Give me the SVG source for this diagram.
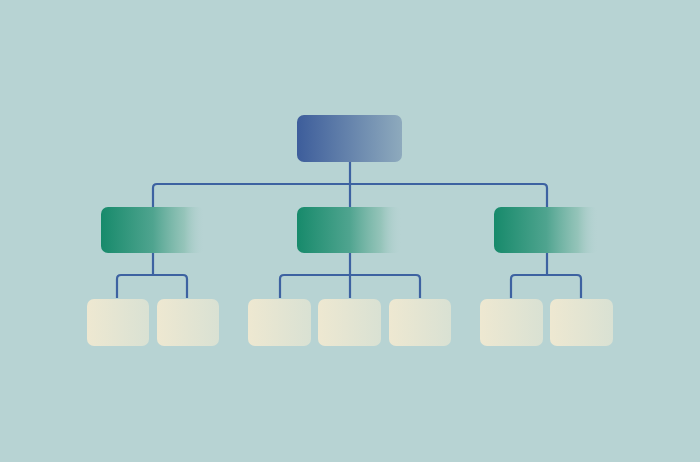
<svg xmlns="http://www.w3.org/2000/svg" width="700" height="462" viewBox="0 0 700 462">
<defs>
<linearGradient id="gTop" x1="0" y1="0" x2="1" y2="0">
<stop offset="0" stop-color="#3d5d9b"/>
<stop offset="1" stop-color="#8eaabd"/>
</linearGradient>
<linearGradient id="gMid" x1="0" y1="0" x2="1" y2="0">
<stop offset="0" stop-color="#178a6b"/>
<stop offset="0.5" stop-color="#4fa48f"/>
<stop offset="0.8" stop-color="#8cc0b3" stop-opacity="0.8"/>
<stop offset="1" stop-color="#b7d3d3" stop-opacity="0"/>
</linearGradient>
<linearGradient id="gLeaf" x1="0" y1="0" x2="1" y2="0">
<stop offset="0" stop-color="#eee8d1"/>
<stop offset="1" stop-color="#d9e1d3"/>
</linearGradient>
<style>
.top{fill:url(#gTop)}
.mid{fill:url(#gMid)}
.leaf{fill:url(#gLeaf)}
.c{fill:none;stroke:#3d62a1;stroke-width:2.2;stroke-linejoin:round}
</style>
</defs>
<rect width="700" height="462" fill="#b7d3d3"/>
<g id="connectors">
<path class="c" d="M350,162 V184"/>
<path class="c" d="M153,207 V188 Q153,184 157,184 H543 Q547,184 547,188 V207"/>
<path class="c" d="M350,184 V207"/>
<path class="c" d="M153,253 V275"/>
<path class="c" d="M117,298 V279 Q117,275 121,275 H183 Q187,275 187,279 V298"/>
<path class="c" d="M350,253 V298"/>
<path class="c" d="M280,298 V279 Q280,275 284,275 H416 Q420,275 420,279 V298"/>
<path class="c" d="M547,253 V275"/>
<path class="c" d="M511,298 V279 Q511,275 515,275 H577 Q581,275 581,279 V298"/>
</g>
<g id="root"><rect class="top" x="297" y="115" width="105" height="47" rx="7"/></g>
<g id="mid-left"><rect class="mid" x="101" y="207" width="104" height="46" rx="7"/></g>
<g id="mid-center"><rect class="mid" x="297" y="207" width="105" height="46" rx="7"/></g>
<g id="mid-right"><rect class="mid" x="494" y="207" width="105" height="46" rx="7"/></g>
<g id="leaf-1"><rect class="leaf" x="87" y="299" width="62" height="47" rx="7"/></g>
<g id="leaf-2"><rect class="leaf" x="157" y="299" width="62" height="47" rx="7"/></g>
<g id="leaf-3"><rect class="leaf" x="248" y="299" width="63" height="47" rx="7"/></g>
<g id="leaf-4"><rect class="leaf" x="318" y="299" width="63" height="47" rx="7"/></g>
<g id="leaf-5"><rect class="leaf" x="389" y="299" width="62" height="47" rx="7"/></g>
<g id="leaf-6"><rect class="leaf" x="480" y="299" width="63" height="47" rx="7"/></g>
<g id="leaf-7"><rect class="leaf" x="550" y="299" width="63" height="47" rx="7"/></g>
</svg>
